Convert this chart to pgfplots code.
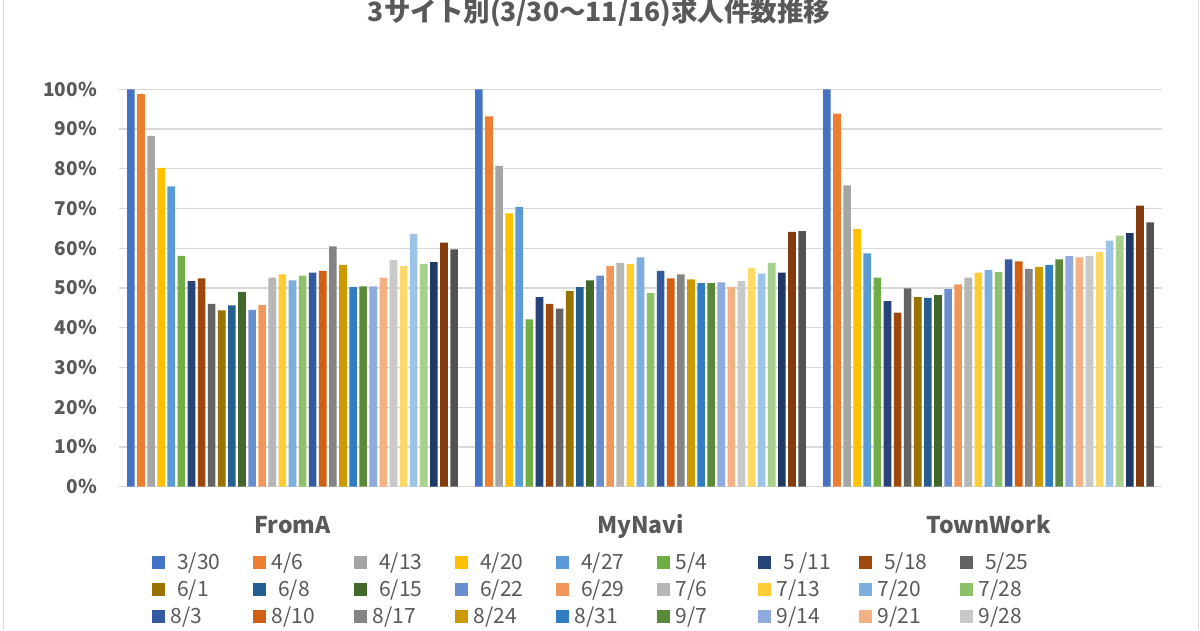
\documentclass[border=0pt]{standalone}
\usepackage{pgfplots}
\pgfplotsset{compat=1.18}
\usepackage{fontspec}
\setmainfont{Noto Sans CJK JP}
\definecolor{textgray}{HTML}{595959}
\definecolor{gridgray}{HTML}{D9D9D9}
\definecolor{c1}{HTML}{4472C4}\definecolor{c2}{HTML}{ED7D31}\definecolor{c3}{HTML}{A5A5A5}
\definecolor{c4}{HTML}{FFC000}\definecolor{c5}{HTML}{5B9BD5}\definecolor{c6}{HTML}{70AD47}
\definecolor{c7}{HTML}{264478}\definecolor{c8}{HTML}{9E480E}\definecolor{c9}{HTML}{636363}
\definecolor{c10}{HTML}{997300}\definecolor{c11}{HTML}{255E91}\definecolor{c12}{HTML}{43682B}
\definecolor{c13}{HTML}{698ED0}\definecolor{c14}{HTML}{F1975A}\definecolor{c15}{HTML}{B7B7B7}
\definecolor{c16}{HTML}{FFCD33}\definecolor{c17}{HTML}{7CAFDD}\definecolor{c18}{HTML}{8CC168}
\definecolor{c19}{HTML}{335AA1}\definecolor{c20}{HTML}{D26012}\definecolor{c21}{HTML}{848484}
\definecolor{c22}{HTML}{CC9A00}\definecolor{c23}{HTML}{327DC2}\definecolor{c24}{HTML}{5A8A39}
\definecolor{c25}{HTML}{8FAADC}\definecolor{c26}{HTML}{F4B183}\definecolor{c27}{HTML}{C9C9C9}
\definecolor{c28}{HTML}{FFD966}\definecolor{c29}{HTML}{9DC3E6}\definecolor{c30}{HTML}{A9D18E}
\definecolor{c31}{HTML}{203864}\definecolor{c32}{HTML}{843C0C}\definecolor{c33}{HTML}{525252}
\newcommand{\LA}[1]{\makebox[87.7pt][l]{\hspace{5.7pt}#1}}
\newcommand{\LB}[1]{\makebox[87.7pt][l]{\hspace{12.2pt}#1}}
\begin{document}
\begin{tikzpicture}
\useasboundingbox (0,0) rectangle (1200pt,630pt);
\fill[white] (0,0) rectangle (1200pt,630pt);
\draw[gridgray, line width=1pt] (3pt,0) -- (3pt,630pt);
\draw[gridgray, line width=1pt] (1198.5pt,0) -- (1198.5pt,630pt);
\node[anchor=base, font=\bfseries\fontsize{26.5pt}{30pt}\selectfont, text=textgray] at (599pt,608.5pt) {3サイト別(3/30～11/16)求人件数推移};
\begin{axis}[
  at={(118.5pt,143.3pt)}, anchor=south west,
  scale only axis, width=1044pt, height=397.4pt,
  xmin=-0.5, xmax=2.5, ymin=0, ymax=100,
  ybar=2.5pt, bar width=7.6pt,
  xtick={0,1,2}, xticklabels={FromA,MyNavi,TownWork},
  ytick={0,10,...,100},
  yticklabel={\pgfmathprintnumber{\tick}\%},
  /pgf/number format/assume math mode=true,
  ymajorgrids, grid style={draw=gridgray, line width=1.3pt},
  separate axis lines,
  axis x line*=bottom, axis y line*=left,
  y axis line style={draw=none},
  x axis line style={draw=gridgray, line width=1.3pt},
  tick style={draw=none}, major tick length=0pt,
  xticklabel style={anchor=base, yshift=-46.7pt, inner sep=0pt, font=\bfseries\fontsize{23pt}{27pt}\selectfont, text=textgray},
  yticklabel style={anchor=base east, inner sep=0pt, xshift=-21.5pt, yshift=-6.9pt, font=\bfseries\fontsize{19pt}{23pt}\selectfont, text=textgray},
  legend columns=9,
  legend image code/.code={\fill[#1, draw=none] (0pt,0.8pt) rectangle (13.3pt,14.1pt);},
  legend style={at={(0.0318,-0.1739)}, anchor=north west, draw=none, fill=none,
    inner sep=0pt, outer sep=0pt, column sep=0pt, row sep=7.9pt,
    font=\fontsize{21pt}{25pt}\selectfont,
    cells={anchor=base west},
    nodes={inner sep=0pt, outer sep=0pt, text height=14pt, text depth=5pt, font=\fontsize{21pt}{25pt}\selectfont, text=textgray}},
]
\addplot[fill=c1,draw=none] coordinates {(0,100) (1,100) (2,100)};
\addplot[fill=c2,draw=none] coordinates {(0,98.8) (1,93.2) (2,93.9)};
\addplot[fill=c3,draw=none] coordinates {(0,88.3) (1,80.7) (2,75.8)};
\addplot[fill=c4,draw=none] coordinates {(0,80.2) (1,68.8) (2,64.8)};
\addplot[fill=c5,draw=none] coordinates {(0,75.6) (1,70.4) (2,58.7)};
\addplot[fill=c6,draw=none] coordinates {(0,58.1) (1,42.1) (2,52.6)};
\addplot[fill=c7,draw=none] coordinates {(0,51.7) (1,47.7) (2,46.7)};
\addplot[fill=c8,draw=none] coordinates {(0,52.4) (1,46.0) (2,43.8)};
\addplot[fill=c9,draw=none] coordinates {(0,46.0) (1,44.8) (2,49.9)};
\addplot[fill=c10,draw=none] coordinates {(0,44.4) (1,49.2) (2,47.7)};
\addplot[fill=c11,draw=none] coordinates {(0,45.6) (1,50.2) (2,47.5)};
\addplot[fill=c12,draw=none] coordinates {(0,49.0) (1,51.9) (2,48.2)};
\addplot[fill=c13,draw=none] coordinates {(0,44.5) (1,53.1) (2,49.7)};
\addplot[fill=c14,draw=none] coordinates {(0,45.7) (1,55.5) (2,50.9)};
\addplot[fill=c15,draw=none] coordinates {(0,52.6) (1,56.3) (2,52.6)};
\addplot[fill=c16,draw=none] coordinates {(0,53.4) (1,56.0) (2,53.9)};
\addplot[fill=c17,draw=none] coordinates {(0,51.9) (1,57.7) (2,54.5)};
\addplot[fill=c18,draw=none] coordinates {(0,53.1) (1,48.7) (2,54.0)};
\addplot[fill=c19,draw=none] coordinates {(0,53.9) (1,54.3) (2,57.2)};
\addplot[fill=c20,draw=none] coordinates {(0,54.3) (1,52.4) (2,56.7)};
\addplot[fill=c21,draw=none] coordinates {(0,60.5) (1,53.4) (2,54.8)};
\addplot[fill=c22,draw=none] coordinates {(0,55.8) (1,52.2) (2,55.3)};
\addplot[fill=c23,draw=none] coordinates {(0,50.2) (1,51.2) (2,55.8)};
\addplot[fill=c24,draw=none] coordinates {(0,50.4) (1,51.2) (2,57.2)};
\addplot[fill=c25,draw=none] coordinates {(0,50.4) (1,51.4) (2,58.0)};
\addplot[fill=c26,draw=none] coordinates {(0,52.6) (1,50.2) (2,57.7)};
\addplot[fill=c27,draw=none] coordinates {(0,57.0) (1,51.7) (2,58.0)};
\addplot[fill=c28,draw=none] coordinates {(0,55.5) (1,55.0) (2,59.0)};
\addplot[fill=c29,draw=none] coordinates {(0,63.6) (1,53.6) (2,61.9)};
\addplot[fill=c30,draw=none] coordinates {(0,56.0) (1,56.3) (2,63.2)};
\addplot[fill=c31,draw=none] coordinates {(0,56.5) (1,53.9) (2,63.8)};
\addplot[fill=c32,draw=none] coordinates {(0,61.4) (1,64.1) (2,70.7)};
\addplot[fill=c33,draw=none] coordinates {(0,59.7) (1,64.3) (2,66.5)};
\legend{\LB{3/30},\LA{4/6},\LB{4/13},\LB{4/20},\LB{4/27},\LA{5/4},\LB{5 /11},\LB{5/18},\LB{5/25},
\LB{6/1},\LB{6/8},\LB{6/15},\LB{6/22},\LB{6/29},\LA{7/6},\LA{7/13},\LA{7/20},\LA{7/28},
\LA{8/3},\LA{8/10},\LA{8/17},\LA{8/24},\LA{8/31},\LA{9/7},\LA{9/14},\LA{9/21},\LA{9/28}}
\end{axis}
\end{tikzpicture}
\end{document}
